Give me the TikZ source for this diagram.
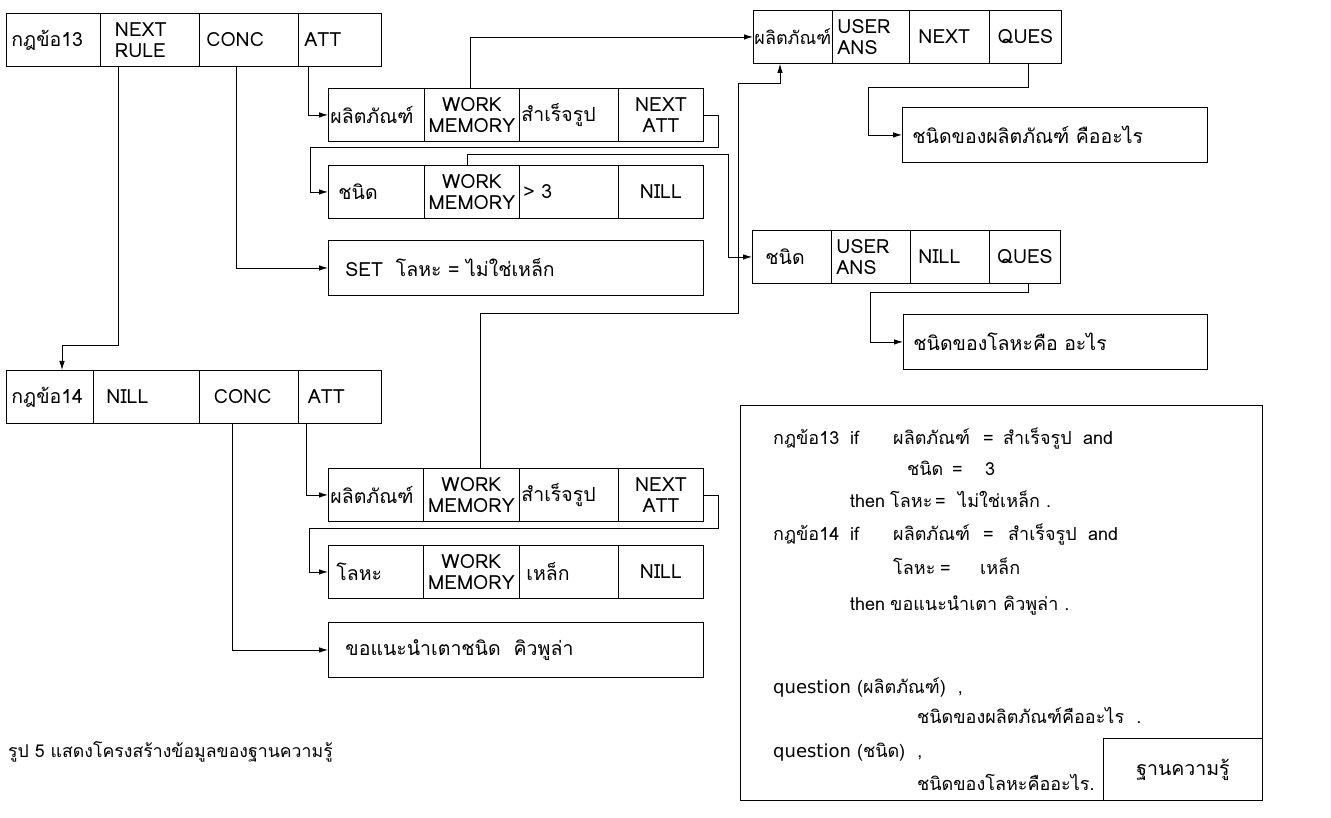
\documentclass[tikz,border=0pt]{standalone}
\usepackage{fontspec}
\setmainfont[Script=Thai]{Loma}
\newfontfamily\latf{DejaVu Sans}
\usetikzlibrary{arrows.meta}
\begin{document}
\begin{tikzpicture}[x=1pt,y=-1pt,
  every node/.style={inner sep=0pt},
  cell/.style 2 args={draw, line width=0.9pt, anchor=north west, minimum width=#1, text width=#2, minimum height=53pt, align=left, font=\fontsize{19.5}{21}\selectfont},
  ccell/.style 2 args={cell={#1}{#2}, align=center},
  wide/.style 2 args={draw, line width=0.9pt, anchor=north west, minimum width=#1, text width=#2, minimum height=55pt, align=left, font=\fontsize{19.5}{21}\selectfont},
  arr/.style={line width=0.8pt, -{Latex[length=9pt,width=5.5pt]}},
  txt/.style={anchor=base west, font=\fontsize{18}{20}\selectfont},
]
\useasboundingbox (0,0) rectangle (1331,818);

% ---- rule 13
\node[cell={94pt}{84pt}] (r13n) at (6,13) {กฎข้อ13};
\node[cell={99pt}{70pt}] (r13x) at (100,13) {NEXT\\RULE};
\node[cell={99pt}{85pt}] (r13c) at (199,13) {CONC};
\node[cell={83pt}{71pt}] (r13a) at (298,13) {ATT};

\node[cell={96pt}{92pt}] (a13a1) at (328,88) {ผลิตภัณฑ์};
\node[ccell={95pt}{95pt}] (a13a2) at (424,88) {WORK\\MEMORY};
\node[cell={99pt}{95pt}] (a13a3) at (519,88) {สำเร็จรูป};
\node[ccell={85pt}{70pt}] (a13a4) at (618,88) {NEXT\\ATT};

\node[cell={96pt}{76pt}] (a13b1) at (328,165) {ชนิด};
\node[ccell={95pt}{95pt}] (a13b2) at (424,165) {WORK\\MEMORY};
\node[cell={99pt}{91pt}] (a13b3) at (519,165) {> 3};
\node[ccell={85pt}{70pt}] (a13b4) at (618,165) {NILL};

\node[wide={375pt}{341pt}] (c13) at (328,240) {SET\ \ โลหะ = ไม่ใช่เหล็ก};

% ---- rule 14
\node[cell={87pt}{77pt}] (r14n) at (6,370) {กฎข้อ14};
\node[cell={106pt}{80pt}] (r14x) at (93,370) {NILL};
\node[cell={99pt}{70pt}] (r14c) at (199,370) {CONC};
\node[cell={83pt}{64pt}] (r14a) at (298,370) {ATT};

\node[cell={95pt}{91pt}] (a14a1) at (328,468) {ผลิตภัณฑ์};
\node[ccell={96pt}{96pt}] (a14a2) at (423,468) {WORK\\MEMORY};
\node[cell={99pt}{95pt}] (a14a3) at (519,468) {สำเร็จรูป};
\node[ccell={85pt}{70pt}] (a14a4) at (618,468) {NEXT\\ATT};

\node[cell={95pt}{79pt}] (a14b1) at (328,545) {โลหะ};
\node[ccell={96pt}{96pt}] (a14b2) at (423,545) {WORK\\MEMORY};
\node[cell={99pt}{85pt}] (a14b3) at (519,545) {เหล็ก};
\node[ccell={85pt}{70pt}] (a14b4) at (618,545) {NILL};

\node[wide={375pt}{341pt}] (c14) at (328,622) {ขอแนะนำเตาชนิด\ \ คิวพูล่า};

% ---- attribute records (right)
\node[cell={79pt}{77pt}, font=\fontsize{18}{21}\selectfont] (p1) at (753,10) {ผลิตภัณฑ์};
\node[cell={77pt}{67pt}] (p2) at (832,10) {USER\\ANS};
\node[cell={80pt}{62pt}] (p3) at (909,10) {NEXT};
\node[ccell={72pt}{60pt}] (p4) at (989,10) {QUES};
\node[wide={305pt}{285pt}] (q1) at (902,107) {ชนิดของผลิตภัณฑ์\ คืออะไร};

\node[cell={79pt}{53pt}] (t1) at (752,230) {ชนิด};
\node[cell={79pt}{69pt}] (t2) at (831,230) {USER\\ANS};
\node[cell={79pt}{63pt}] (t3) at (910,230) {NILL};
\node[ccell={71pt}{60pt}] (t4) at (989,230) {QUES};
\node[wide={304pt}{284pt}] (q2) at (903,314) {ชนิดของโลหะคือ\ อะไร};

% ---- knowledge base text box
\node[draw, line width=0.9pt, anchor=north west, minimum width=522pt, minimum height=395pt] (kb) at (740,405) {};
\node[draw, line width=0.9pt, anchor=north west, minimum width=159pt, minimum height=62pt, font=\fontsize{19.5}{21}\selectfont] (kbt) at (1103,738) {ฐานความรู้};

\node[txt] (l1a) at (773,444) {กฎข้อ13};
\node[txt] (l1b) at (850,444) {if};
\node[txt] (l1c) at (893,444) {ผลิตภัณฑ์};
\node[txt] (l1d) at (983,444) {=};
\node[txt] (l1e) at (1003,444) {สำเร็จรูป};
\node[txt] (l1f) at (1083,444) {and};

\node[txt] (l2a) at (907,475) {ชนิด};
\node[txt] (l2b) at (952,475) {=};
\node[txt] (l2c) at (985,475) {3};

\node[txt] (l3a) at (850,507) {then};
\node[txt] (l3b) at (890,507) {โลหะ};
\node[txt] (l3c) at (935,507) {=};
\node[txt] (l3d) at (958,507) {ไม่ใช่เหล็ก .};

\node[txt] (l4a) at (773,540) {กฎข้อ14};
\node[txt] (l4b) at (850,540) {if};
\node[txt] (l4c) at (893,540) {ผลิตภัณฑ์};
\node[txt] (l4d) at (983,540) {=};
\node[txt] (l4e) at (1008,540) {สำเร็จรูป};
\node[txt] (l4f) at (1088,540) {and};

\node[txt] (l5a) at (893,574) {โลหะ};
\node[txt] (l5b) at (940,574) {=};
\node[txt] (l5c) at (980,574) {เหล็ก};

\node[txt] (l6a) at (850,610) {then};
\node[txt] (l6b) at (890,610) {ขอแนะนำเตา};
\node[txt] (l6c) at (1003,610) {คิวพูล่า .};

\node[txt] (l7) at (773,693) {{\latf question} (ผลิตภัณฑ์)\ \ ,};
\node[txt] (l8) at (917,723) {ชนิดของผลิตภัณฑ์คืออะไร\ \ .};
\node[txt] (l9) at (773,757) {{\latf question} (ชนิด)\ \ ,};
\node[txt] (l10) at (917,790) {ชนิดของโลหะคืออะไร.};

% ---- caption
\node[anchor=base west, font=\fontsize{17.7}{22}\selectfont] (cap) at (8,757) {รูป 5 แสดงโครงสร้างข้อมูลของฐานความรู้};

% ---- connectors
\draw[arr] (118,0 |- r13x.south) |- (62,345) -- (62,0 |- r14n.north);
\draw[arr] (236,0 |- r13c.south) |- (c13.west);
\draw[arr] (308,0 |- r13a.south) |- (a13a1.west);
\draw[arr] (a13a4.east) -- ++(14,0) |- (310,147) |- (a13b1.west);
\draw[arr] (470,0 |- a13a2.north) |- (p1.west);
\draw[arr] (467,0 |- a13b2.north) |- (728,154) |- (t1.west);

\draw[arr] (232,0 |- r14c.south) |- (c14.west);
\draw[arr] (306,0 |- r14a.south) |- (a14a1.west);
\draw[arr] (a14a4.east) -- ++(14,0) |- (309,528) |- (a14b1.west);
\draw[arr] (480,0 |- a14a2.north) |- (738,313) |- (780,83) -- (780,0 |- p1.south);

\draw[arr] (1028,0 |- p4.south) |- (868,87) |- (q1.west);
\draw[arr] (1028,0 |- t4.south) |- (870,292) |- (q2.west);
\end{tikzpicture}
\end{document}
